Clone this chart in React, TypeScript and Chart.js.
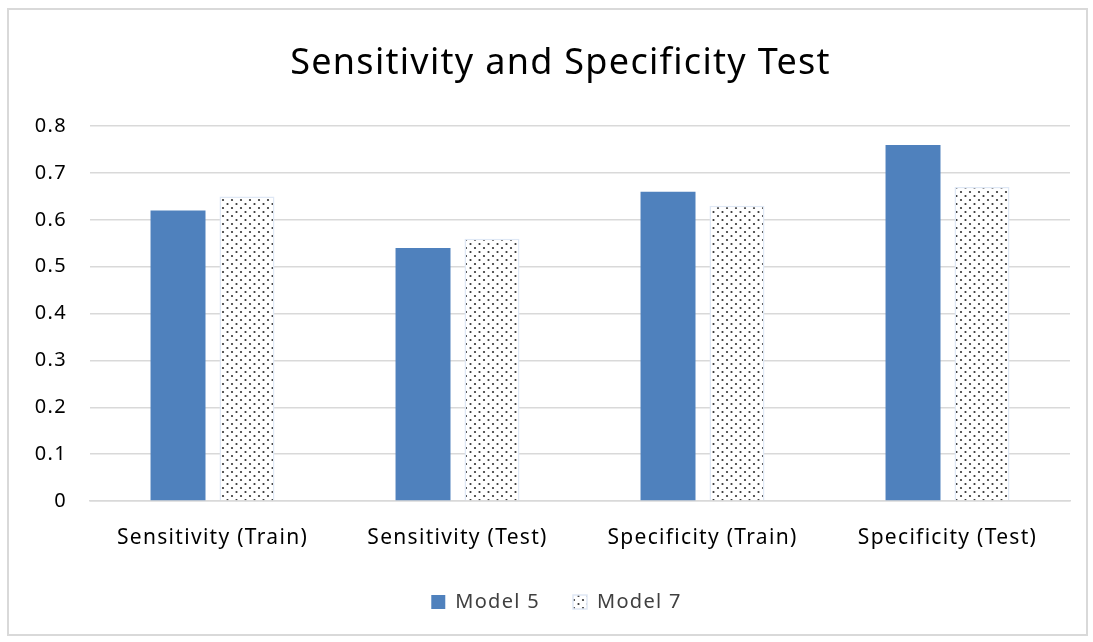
import React, { useEffect, useRef } from "react";
import { Chart, registerables } from "chart.js";

Chart.register(...registerables);

const categories = ["Sensitivity (Train)", "Sensitivity (Test)", "Specificity (Train)", "Specificity (Test)"];
const model5 = [0.62, 0.54, 0.66, 0.76];
const model7 = [0.65, 0.56, 0.63, 0.67];
const seriesNames = ["Model 5", "Model 7"];
const titleText = "Sensitivity and Specificity Test";

const FONT = "'Noto Sans', 'Open Sans', sans-serif";

function makeDotPattern(): CanvasPattern | string {
  const tile = document.createElement("canvas");
  tile.width = 9;
  tile.height = 8;
  const c = tile.getContext("2d");
  if (!c) return "#ffffff";
  c.fillStyle = "#ffffff";
  c.fillRect(0, 0, 9, 8);
  c.fillStyle = "#333333";
  c.beginPath();
  c.arc(2.5, 2, 1.1, 0, Math.PI * 2);
  c.fill();
  c.beginPath();
  c.arc(7, 6, 1.1, 0, Math.PI * 2);
  c.fill();
  const main = document.createElement("canvas").getContext("2d");
  const p = main ? main.createPattern(tile, "repeat") : null;
  return p || "#ffffff";
}

const TITLE_SHIFT = 21;
const LEGEND_SHIFT = 17;

const helperPlugin = {
  id: "helper",
  beforeInit(chart: any) {
    try { chart.ctx.letterSpacing = "1.3px"; } catch (e) {}
  },
  beforeLayout(chart: any) {
    try { chart.ctx.letterSpacing = "1.3px"; } catch (e) {}
  },
  afterLayout(chart: any) {
    if (chart.titleBlock) {
      chart.titleBlock.left += TITLE_SHIFT;
      chart.titleBlock.right += TITLE_SHIFT;
    }
    if (chart.legend) {
      chart.legend.left += LEGEND_SHIFT;
      chart.legend.right += LEGEND_SHIFT;
    }
  },
  beforeDraw(chart: any) {
    try { chart.ctx.letterSpacing = "1.3px"; } catch (e) {}
  },
};

export default function App() {
  const ref = useRef<HTMLCanvasElement | null>(null);
  useEffect(() => {
    if (!ref.current) return;
    const pattern = makeDotPattern();
    const chart = new Chart(ref.current, {
      type: "bar",
      plugins: [helperPlugin],
      data: {
        labels: categories,
        datasets: [
          {
            label: seriesNames[0],
            data: model5,
            backgroundColor: "#4f81bd",
            borderColor: "#4f81bd",
            borderWidth: 0,
            categoryPercentage: 0.563,
            barPercentage: 0.797,
          },
          {
            label: seriesNames[1],
            data: model7,
            backgroundColor: pattern as any,
            borderColor: "#dfe8f5",
            borderWidth: 1.5,
            categoryPercentage: 0.563,
            barPercentage: 0.797,
          },
        ],
      },
      options: {
        animation: false,
        responsive: true,
        maintainAspectRatio: false,
        layout: { padding: { left: 0, right: 16, top: 0, bottom: 12 } },
        plugins: {
          title: {
            display: true,
            text: titleText,
            color: "#000000",
            font: { family: FONT, size: 36, weight: "normal" },
            padding: { top: 32, bottom: 41 },
          },
          legend: {
            display: true,
            position: "bottom",
            labels: {
              color: "#404040",
              font: { family: FONT, size: 20 },
              boxWidth: 14,
              boxHeight: 14,
              padding: 33,
            },
          },
          tooltip: { enabled: false },
        },
        scales: {
          x: {
            grid: { display: false, drawTicks: false },
            border: { display: true, color: "#d9d9d9", width: 1.5 },
            ticks: {
              color: "#000000",
              font: { family: FONT, size: 21 },
              padding: 24,
              maxRotation: 0,
            },
            afterFit: (scale: any) => {
              scale.height = 58;
            },
          },
          y: {
            min: 0,
            max: 0.8,
            ticks: {
              stepSize: 0.1,
              color: "#000000",
              font: { family: FONT, size: 20 },
              padding: 23,
              callback: (v: any) => {
                const n = Math.round(Number(v) * 10) / 10;
                return n === 0 ? "0" : n.toString();
              },
            },
            afterFit: (scale: any) => {
              scale.width = 81;
            },
            grid: { color: "#d9d9d9", lineWidth: 1.5, drawTicks: false },
            border: { display: false },
          },
        },
      },
    });
    return () => chart.destroy();
  }, []);
  return (
    <div
      style={{
        position: "fixed",
        left: 7,
        top: 8,
        width: 1081,
        height: 628,
        border: "2px solid #d9d9d9",
        boxSizing: "border-box",
        background: "#ffffff",
      }}
    >
      <canvas ref={ref} />
    </div>
  );
}
